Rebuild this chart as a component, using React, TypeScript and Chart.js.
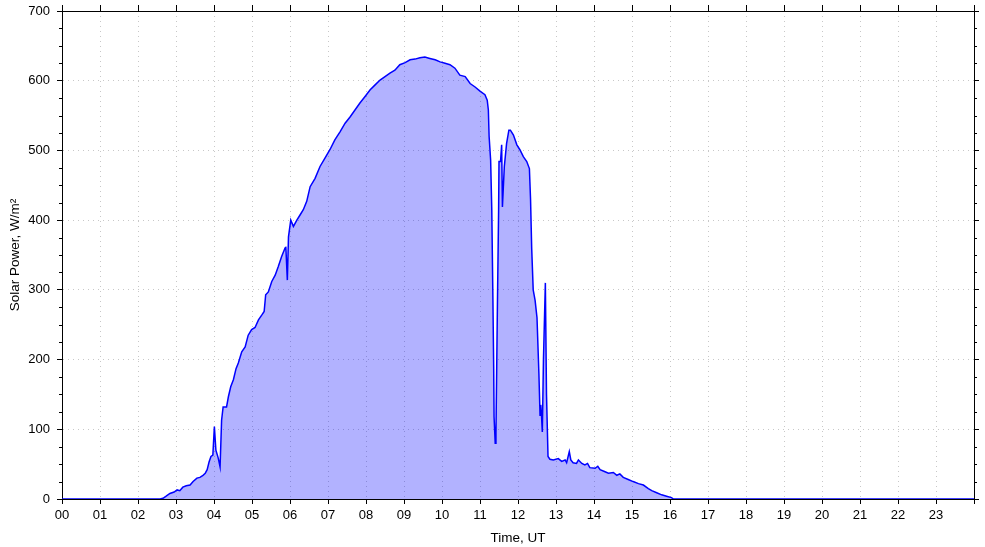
import React, { useEffect, useRef } from "react";
import { Chart, registerables } from "chart.js";

Chart.register(...registerables);

// Time in hours (UT)
const hours: number[] = [
  0, 2.58, 2.66, 2.74, 2.84, 2.95, 3.03, 3.1, 3.18, 3.27, 3.37, 3.45, 3.55, 3.63, 3.71, 3.77,
  3.82, 3.87, 3.92, 3.97, 4.01, 4.05, 4.11, 4.16, 4.2, 4.24, 4.33, 4.38, 4.44, 4.51, 4.58,
  4.64, 4.73, 4.82, 4.9, 4.99, 5.08, 5.17, 5.26, 5.32, 5.36, 5.43, 5.52, 5.61, 5.69, 5.78,
  5.87, 5.89, 5.93, 5.96, 6.02, 6.09, 6.18, 6.26, 6.35, 6.44, 6.53, 6.66, 6.79, 6.92, 7.05,
  7.18, 7.32, 7.45, 7.58, 7.71, 7.84, 7.97, 8.11, 8.24, 8.37, 8.5, 8.63, 8.76, 8.89, 9.03,
  9.16, 9.29, 9.42, 9.55, 9.68, 9.82, 9.95, 10.08, 10.21, 10.34, 10.47, 10.61, 10.74, 10.87,
  11.0, 11.13, 11.19, 11.22, 11.24, 11.28, 11.31, 11.34, 11.36, 11.37, 11.4, 11.42, 11.44,
  11.46, 11.49, 11.5, 11.54, 11.57, 11.59, 11.64, 11.7, 11.76, 11.8, 11.88, 11.97, 12.05,
  12.14, 12.23, 12.3, 12.33, 12.36, 12.4, 12.45, 12.5, 12.55, 12.58, 12.6, 12.62, 12.64,
  12.67, 12.72, 12.75, 12.79, 12.84, 12.93, 13.06, 13.15, 13.24, 13.28, 13.35, 13.39, 13.45,
  13.54, 13.59, 13.68, 13.76, 13.83, 13.89, 14.03, 14.1, 14.16, 14.29, 14.38, 14.51, 14.6,
  14.68, 14.77, 14.9, 15.03, 15.17, 15.3, 15.43, 15.52, 15.65, 15.78, 15.91, 16.04, 16.09, 24,
];

// Solar power, W/m2
const power: number[] = [
  0, 0, 1, 4, 8, 10, 13, 12, 17, 19, 20, 25, 30, 31, 34, 37,
  42, 53, 61, 63, 104, 70, 59, 46, 113, 132, 132, 147, 161, 171, 187,
  195, 211, 218, 235, 243, 246, 257, 264, 269, 293, 297, 312, 321, 333, 348,
  360, 362, 314, 376, 400, 391, 400, 407, 415, 427, 448, 460, 477, 489, 501,
  515, 527, 539, 548, 558, 568, 577, 587, 594, 601, 606, 611, 615, 623, 626,
  630, 631, 633, 634, 632, 630, 627, 625, 623, 618, 608, 606, 596, 591,
  585, 580, 572, 558, 520, 486, 415, 285, 190, 118, 80, 95, 190,
  285, 415, 484, 484, 508, 419, 477, 510, 529, 529, 522, 508, 501,
  491, 484, 474, 430, 360, 300, 285, 260, 180, 120, 135, 118, 96,
  200, 310, 150, 61, 57, 56, 58, 54, 56, 52, 68, 56, 52,
  51, 56, 51, 49, 51, 45, 44, 47, 42, 39, 37, 38, 34,
  36, 31, 28, 25, 22, 20, 15, 12, 9, 6, 4, 2, 0, 0,
];

const xTickLabels: string[] = [
  "00", "01", "02", "03", "04", "05", "06", "07", "08", "09", "10", "11",
  "12", "13", "14", "15", "16", "17", "18", "19", "20", "21", "22", "23",
];

const yMinorStep = 25;
const FONT = "'Liberation Sans', Arial, Helvetica, sans-serif";

const minorTicks = {
  id: "minorTicks",
  afterDraw(chart: any) {
    const y = chart.scales.y;
    const area = chart.chartArea;
    const ctx = chart.ctx;
    ctx.save();
    ctx.strokeStyle = "#000";
    ctx.lineWidth = 1;
    ctx.beginPath();
    for (let v = y.min; v <= y.max; v += yMinorStep) {
      if (v % 100 === 0) continue;
      const py = Math.round(y.getPixelForValue(v)) + 0.5;
      ctx.moveTo(area.left - 3, py);
      ctx.lineTo(area.left, py);
      ctx.moveTo(area.right, py);
      ctx.lineTo(area.right + 3, py);
    }
    ctx.stroke();
    ctx.restore();
  },
};

export default function App() {
  const ref = useRef<HTMLCanvasElement | null>(null);

  useEffect(() => {
    if (!ref.current) return;
    const gridColor = "#c8c8c8";
    const chart = new Chart(ref.current, {
      type: "line",
      data: {
        datasets: [
          {
            data: hours.map((h, i) => ({ x: h, y: power[i] })),
            borderColor: "#0000ff",
            borderWidth: 1.5,
            backgroundColor: "rgba(0,0,255,0.3)",
            fill: "origin",
            pointRadius: 0,
            tension: 0,
            xAxisID: "x",
            yAxisID: "y",
          },
        ],
      },
      plugins: [minorTicks],
      options: {
        animation: false,
        responsive: false,
        devicePixelRatio: 1,
        layout: { padding: 0 },
        plugins: { legend: { display: false }, tooltip: { enabled: false } },
        scales: {
          x: {
            type: "linear",
            position: "bottom",
            min: 0,
            max: 24,
            ticks: {
              stepSize: 1,
              autoSkip: false,
              maxRotation: 0,
              padding: 4,
              color: "#000",
              font: { family: FONT, size: 13 },
              callback: (v: any) => xTickLabels[v as number] ?? "",
            },
            grid: {
              color: gridColor,
              lineWidth: 1,
              tickLength: 5,
              tickColor: "#000",
              tickBorderDash: [],
            },
            border: { display: true, color: "#000", width: 1, dash: [1, 4] },
            title: {
              display: true,
              text: "Time, UT",
              color: "#000",
              font: { family: FONT, size: 13.5 },
              padding: { top: 0, bottom: 1 },
            },
            afterFit: (s: any) => {
              s.height = 48;
              s.paddingLeft = 0;
              s.paddingRight = 0;
            },
          },
          x2: {
            type: "linear",
            position: "top",
            min: 0,
            max: 24,
            ticks: { display: false, stepSize: 1, autoSkip: false },
            grid: { drawOnChartArea: false, tickLength: 6, tickColor: "#000" },
            border: { display: true, color: "#000", width: 1 },
            afterFit: (s: any) => {
              s.height = 11;
              s.paddingLeft = 0;
              s.paddingRight = 0;
            },
          },
          y: {
            type: "linear",
            position: "left",
            min: 0,
            max: 700,
            ticks: {
              stepSize: 100,
              padding: 7,
              color: "#000",
              font: { family: FONT, size: 13 },
            },
            grid: {
              color: gridColor,
              lineWidth: 1,
              tickLength: 5,
              tickColor: "#000",
              tickBorderDash: [],
            },
            border: { display: true, color: "#000", width: 1, dash: [1, 4] },
            title: {
              display: true,
              text: "Solar Power, W/m\u00B2",
              color: "#000",
              font: { family: FONT, size: 13.5 },
              padding: { top: 7, bottom: 0 },
            },
            afterFit: (s: any) => {
              s.width = 62;
              s.paddingTop = 0;
              s.paddingBottom = 0;
            },
          },
          y2: {
            type: "linear",
            position: "right",
            min: 0,
            max: 700,
            ticks: { display: false, stepSize: 100 },
            grid: { drawOnChartArea: false, tickLength: 5, tickColor: "#000" },
            border: { display: true, color: "#000", width: 1 },
            afterFit: (s: any) => {
              s.width = 11;
              s.paddingTop = 0;
              s.paddingBottom = 0;
            },
          },
        },
      },
    } as any);
    return () => chart.destroy();
  }, []);

  return (
    <div style={{ position: "fixed", left: 0, top: 0, width: 985, height: 547, background: "#fff" }}>
      <canvas ref={ref} width={985} height={547} style={{ display: "block" }} />
    </div>
  );
}
